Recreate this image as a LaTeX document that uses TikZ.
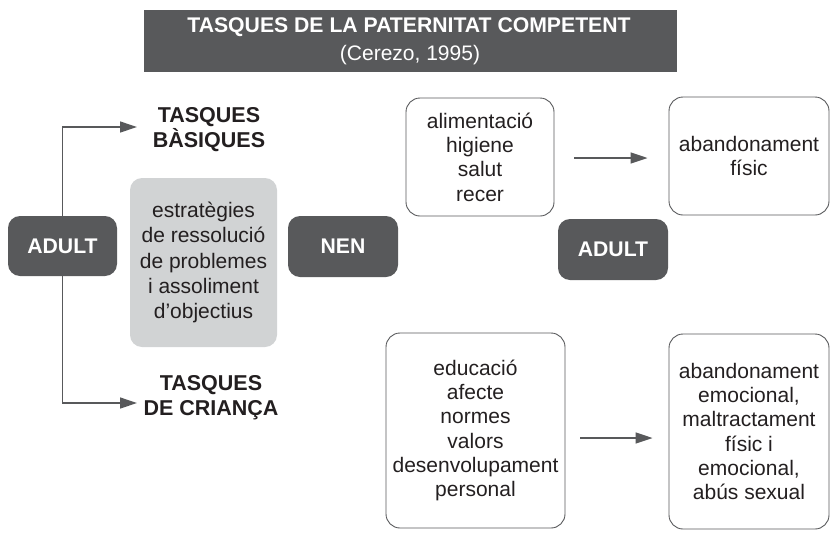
\documentclass[tikz,border=0pt]{standalone}
\usepackage{fontspec}
\setmainfont{Liberation Sans}
\usetikzlibrary{arrows.meta}
\definecolor{dgray}{HTML}{58595B}
\definecolor{lgray}{HTML}{D1D3D4}
\definecolor{txt}{HTML}{231F20}
\begin{document}
\begin{tikzpicture}[x=1pt,y=-1pt,
 darkbox/.style={fill=dgray, rounded corners=12pt, text=white, font=\fontsize{21.2}{24}\selectfont\bfseries, inner sep=0pt},
 whitebox/.style={draw=dgray, line width=0.9pt, rounded corners=14pt, align=center, text=txt, font=\fontsize{21}{24.3}\selectfont, inner sep=0pt},
 graybox/.style={fill=lgray, rounded corners=12pt, align=center, text=txt, font=\fontsize{21}{25.3}\selectfont, inner sep=0pt},
 heading/.style={align=center, text=txt, font=\fontsize{21.5}{25}\selectfont\bfseries, inner sep=0pt},
 arr/.style={draw=dgray, line width=1.3pt, -{Triangle[length=17pt,width=11pt]}}
]
\useasboundingbox (0,0) rectangle (830,549);
% title
\node (bar) [fill=dgray, minimum width=533pt, minimum height=62pt, inner sep=0pt] at (410.5,41) {};
\node (title) [anchor=base, text=white, inner sep=0pt, font=\fontsize{21.2}{25}\selectfont\bfseries] at (409,32.7) {TASQUES DE LA PATERNITAT COMPETENT};
\node (cite) [anchor=base, text=white, inner sep=0pt, font=\fontsize{21}{25}\selectfont] at (410,60) {(Cerezo, 1995)};
% left part
\node (adultL) [darkbox, minimum width=109pt, minimum height=60pt] at (62.5,246) {ADULT};
\node (strat) [graybox, minimum width=147pt, minimum height=169pt] at (203.5,262.5) {estratègies\\de ressolució\\de problemes\\i assoliment\\d’objectius};
\node (nen) [darkbox, minimum width=110pt, minimum height=61pt] at (343,246.5) {NEN};
\node (tb) [heading] at (209,129.5) {TASQUES\\BÀSIQUES};
\node (tc) [heading] at (211,398) {TASQUES\\DE CRIANÇA};
% right part
\node (basic) [whitebox, minimum width=148pt, minimum height=118pt] at (480,157) {alimentació\\higiene\\salut\\recer};
\node (fisic) [whitebox, minimum width=160pt, minimum height=118pt] at (749,156) {abandonament\\físic};
\node (adultR) [darkbox, minimum width=110pt, minimum height=61pt] at (613,249.5) {ADULT};
\node (crian) [whitebox, minimum width=179pt, minimum height=195pt] at (475.5,430.5) {educació\\afecte\\normes\\valors\\desenvolupament\\personal};
\node (emoc) [whitebox, minimum width=160pt, minimum height=195pt] at (749,431.5) {abandonament\\emocional,\\maltractament\\físic i\\emocional,\\abús sexual};
% connectors
\coordinate (t1) at (137,127);
\coordinate (t2) at (137,403);
\draw[arr] (adultL.north) |- (t1);
\draw[arr] (adultL.south) |- (t2);
\draw[arr] ([xshift=20pt,yshift=-1pt]basic.east) -- ([xshift=-21pt,yshift=-2pt]fisic.west);
\draw[arr] ([xshift=15pt,yshift=-7.5pt]crian.east) -- ([xshift=-16pt,yshift=-6.5pt]emoc.west);
\end{tikzpicture}
\end{document}
